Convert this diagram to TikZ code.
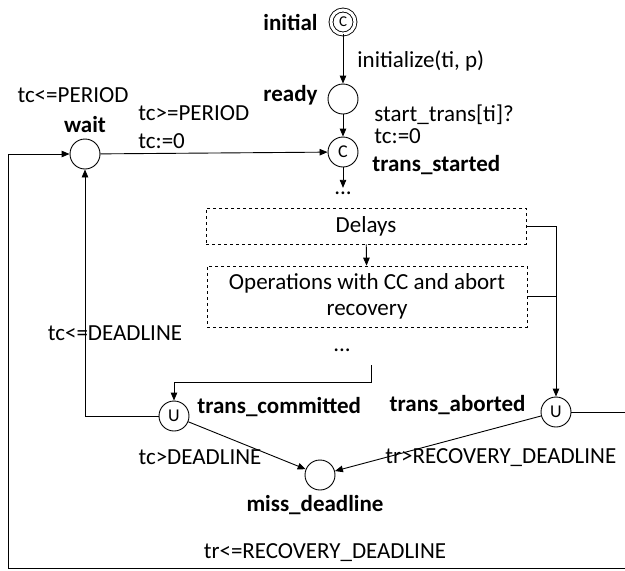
\documentclass[tikz,border=0pt]{standalone}
\usepackage{fontspec}
\setmainfont{Carlito}
\usetikzlibrary{arrows.meta,positioning}

\begin{document}
\begin{tikzpicture}[
    % GLOBAL CFG
    x=1pt, y=-1pt,
    font=\fontsize{23}{26}\selectfont,
    >={Triangle[length=8pt,width=6.5pt]},
    line width=0.9pt,
    % Styles
    loc/.style={% For the locations
        circle,
        draw,
        minimum size=30pt,
        inner sep=0pt,
        font=\fontsize{18}{20}\selectfont,
        },
    locname/.style={% For the names of the locations
        inner sep=0pt,
        font=\fontsize{23}{26}\selectfont\bfseries,
        },
    guard/.style={% For guards, updates and invariants
        inner sep=0pt,
        },
    dbox/.style={% For the dashed blocks
        rectangle,
        draw,
        dashed,
        line width=0.7pt,
        minimum width=320pt,
        inner sep=0pt,
        },
    ]
    \useasboundingbox (0,0) rectangle (625,571);

    % Draw the locations
    \node [loc, double, double distance=3pt, minimum size=24pt, font=\fontsize{15}{17}\selectfont] (init) at (343,22) {C};
    \node [loc] (ready) at (343,99) {};
    \node [loc] (started) at (343,152) {C};
    \node [loc] (wait) at (85,154) {};
    \node [loc] (committed) at (174,416) {U};
    \node [loc] (aborted) at (556,412) {U};
    \node [loc] (miss) at (320,475) {};

    % Names of the locations
    \node [locname, anchor=east] (initname) at (318,22) {initial};
    \node [locname, anchor=east] (readyname) at (318,95) {ready};
    \node [locname, anchor=west] (startedname) at (372,165) {trans\_started};
    \node [locname] (waitname) at (85,125) {wait};
    \node [locname, anchor=west] (committedname) at (197,407) {trans\_committed};
    \node [locname, anchor=east] (abortedname) at (526,405) {trans\_aborted};
    \node [locname] (missname) at (315,505) {miss\_deadline};

    % Dashed blocks and dots
    \node [dbox, minimum height=36pt] (delays) at (366,226) {Delays};
    \node [dbox, minimum height=61pt, align=center] (ops) at (367,296.5) {Operations with CC and abort\\recovery};
    \node (dots1) at (343,193) {...};
    \node (dots2) at (342,350) {...};

    % Guards, updates and invariants
    \node [guard, anchor=west] (initlbl) at (357,61) {initialize(ti, p)};
    \node [guard, anchor=west, align=left] (startlbl) at (374,124) {start\_trans[ti]?\\[-4pt]tc:=0};
    \node [guard] (periodinv) at (73,95) {tc<=PERIOD};
    \node [guard, anchor=west, align=left] (periodlbl) at (138,127) {tc>=PERIOD\\[2pt]tc:=0};
    \node [guard] (deadlineinv) at (115,333) {tc<=DEADLINE};
    \node [guard] (misslbl) at (200,457) {tc>DEADLINE};
    \node [guard, anchor=west] (recmiss) at (385,458) {tr>RECOVERY\_DEADLINE};
    \node [guard] (recloop) at (325,553) {tr<=RECOVERY\_DEADLINE};

    % Free ends
    \coordinate (opsout) at (371,365);
    \coordinate (loopr) at (628,568);
    \coordinate (loopl) at (8,568);

    % Drawing arrows
    \draw [->] (init) -- (ready);
    \draw [->] (ready) -- (started);
    \draw [->] (started) -- (dots1);
    \draw [->] (wait) -- (started);
    \draw [->] (delays) -- (ops);
    \draw [->] (delays.east) -| (aborted);
    \draw (ops.east) -- (ops.east -| aborted);
    \draw [->] (opsout) -- ++(0,17) -| (committed);
    \draw [->] (committed) -| (wait);
    \draw [->] (committed) -- (miss);
    \draw [->] (aborted) -- (miss);
    \draw [->] (aborted) -| (loopr) -- (loopl) |- (wait);
\end{tikzpicture}
\end{document}
